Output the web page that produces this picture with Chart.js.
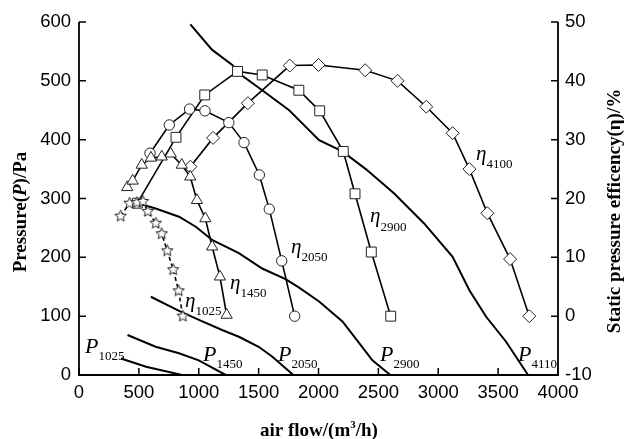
<!DOCTYPE html>
<html>
<head>
<meta charset="utf-8">
<script src="https://cdn.jsdelivr.net/npm/chart.js@4.4.1/dist/chart.umd.min.js"></script>
<style>
  body { margin: 0; background: #fff; }
  canvas { display: block; }
</style>
</head>
<body>
<canvas id="chart" width="625" height="439"></canvas>
<script>
// axis ticks
const xTicks = [0, 500, 1000, 1500, 2000, 2500, 3000, 3500, 4000];
const pTicks = [0, 100, 200, 300, 400, 500, 600];
const etaTicks = [-10, 0, 10, 20, 30, 40, 50];

// pressure curves (air flow m3/h, pressure Pa)
const flowP1025 = [350, 560, 860];
const presP1025 = [28, 14, 0];
const flowP1450 = [405, 640, 835, 1000, 1225];
const presP1450 = [68, 48, 37, 25, 0];
const flowP2050 = [600, 835, 1030, 1200, 1335, 1500, 1615, 1790];
const presP2050 = [133, 109, 91, 76, 65, 48, 31, 0];
const flowP2900 = [490, 640, 835, 975, 1115, 1335, 1530, 1725, 1835, 2005, 2200, 2340, 2450, 2600];
const presP2900 = [292, 283, 269, 252, 229, 207, 181, 163, 149, 125, 91, 54, 25, 0];
const flowP4110 = [930, 1110, 1280, 1335, 1530, 1755, 2005, 2200, 2395, 2630, 2880, 3120, 3260, 3400, 3565, 3750];
const presP4110 = [596, 553, 527, 513, 484, 450, 399, 380, 350, 309, 258, 201, 144, 99, 57, 0];

// static pressure efficiency curves (air flow m3/h, %)
const flowE1025 = [348, 422, 484, 534, 575, 641, 691, 737, 787, 832, 867];
const effE1025 = [17.0, 19.2, 19.3, 19.5, 17.8, 15.8, 14.0, 11.1, 7.9, 4.3, 0];
const flowE1450 = [403, 448, 524, 601, 691, 766, 858, 929, 985, 1055, 1112, 1177, 1233];
const effE1450 = [21.9, 23.0, 25.7, 26.9, 27.1, 27.6, 25.7, 23.7, 19.7, 16.6, 11.8, 6.7, 0.2];
const flowE2050 = [593, 754, 923, 1052, 1251, 1378, 1506, 1589, 1693, 1801];
const effE2050 = [27.7, 32.5, 35.2, 34.9, 32.9, 29.5, 24.0, 18.2, 9.4, 0];
const flowE2900 = [487, 810, 1050, 1324, 1530, 1836, 2010, 2207, 2305, 2441, 2603];
const effE2900 = [19.2, 30.4, 37.6, 41.6, 41.0, 38.4, 34.9, 28.0, 20.8, 10.9, 0];
const flowE4100 = [930, 1120, 1410, 1760, 2000, 2390, 2660, 2900, 3120, 3260, 3410, 3600, 3760];
const effE4100 = [25.4, 30.3, 36.2, 42.6, 42.7, 41.8, 40.0, 35.6, 31.1, 25.0, 17.5, 9.7, 0];

const pts = (xs, ys) => xs.map((x, i) => ({ x, y: ys[i] }));

function makeStar(r) {
  const s = Math.ceil(r * 2 + 3);
  const c = document.createElement("canvas");
  c.width = c.height = s;
  const g = c.getContext("2d");
  g.beginPath();
  for (let i = 0; i < 10; i++) {
    const a = -Math.PI / 2 + i * Math.PI / 5;
    const rr = i % 2 ? r * 0.45 : r;
    g.lineTo(s / 2 + rr * Math.cos(a), s / 2 + rr * Math.sin(a));
  }
  g.closePath();
  g.fillStyle = "#fff";
  g.fill();
  g.strokeStyle = "#222";
  g.lineWidth = 1;
  g.stroke();
  return c;
}
const star = makeStar(6);

const effStyle = (style, radius, dash) => ({
  yAxisID: "y1",
  borderColor: "#000",
  borderWidth: 1.6,
  borderDash: dash || [],
  pointStyle: style,
  pointRadius: radius,
  pointBackgroundColor: "#fff",
  pointBorderColor: "#222",
  pointBorderWidth: 1,
  tension: 0
});
const presStyle = {
  yAxisID: "y",
  borderColor: "#000",
  borderWidth: 2,
  pointRadius: 0,
  tension: 0
};

const sans = "'Liberation Sans', Arial, sans-serif";
const serif = "'Liberation Serif', 'Times New Roman', serif";
const tickFont = { family: sans, size: 18.5 };
const plain = v => String(v);

function drawParts(ctx, parts, x, y, align) {
  let w = 0;
  for (const p of parts) { ctx.font = p.font; w += ctx.measureText(p.t).width; }
  let cx = align === "center" ? x - w / 2 : x;
  for (const p of parts) {
    ctx.font = p.font;
    ctx.fillText(p.t, cx, y + (p.dy || 0));
    cx += ctx.measureText(p.t).width;
  }
}

const labels = [
  ["\u03B7", "4100", 476, 160, 8],
  ["\u03B7", "2900", 370, 222, 9],
  ["\u03B7", "2050", 291, 253, 8],
  ["\u03B7", "1450", 230, 289, 8],
  ["\u03B7", "1025", 185, 307, 8],
  ["P", "1025", 85, 353, 7],
  ["P", "1450", 203, 361, 7],
  ["P", "2050", 278, 361, 7],
  ["P", "2900", 380, 361, 7],
  ["P", "4110", 518, 361, 7]
];

const decor = {
  id: "decor",
  afterDraw(chart) {
    const { ctx, chartArea: a, scales } = chart;
    ctx.save();
    ctx.strokeStyle = "#000";
    ctx.lineWidth = 1.8;
    ctx.beginPath();
    ctx.moveTo(a.left, a.top); ctx.lineTo(a.left, a.bottom); ctx.lineTo(a.right, a.bottom); ctx.lineTo(a.right, a.top);
    ctx.stroke();
    ctx.lineWidth = 1.5;
    ctx.beginPath();
    for (const v of xTicks) { const px = scales.x.getPixelForValue(v); ctx.moveTo(px, a.bottom); ctx.lineTo(px, a.bottom - 7); }
    for (const v of pTicks) { const py = scales.y.getPixelForValue(v); ctx.moveTo(a.left, py); ctx.lineTo(a.left + 7, py); }
    for (const v of etaTicks) { const py = scales.y1.getPixelForValue(v); ctx.moveTo(a.right, py); ctx.lineTo(a.right - 7, py); }
    ctx.stroke();

    ctx.fillStyle = "#000";
    ctx.textBaseline = "alphabetic";
    ctx.textAlign = "left";
    const b = "bold 19px " + serif;
    const bi = "italic bold 19px " + serif;
    drawParts(ctx, [{ t: "air flow/(m", font: b }, { t: "3", font: "bold 11px " + serif, dy: -8 }, { t: "/h)", font: b }], 319, 436, "center");

    ctx.save();
    ctx.translate(26, 212);
    ctx.rotate(-Math.PI / 2);
    drawParts(ctx, [{ t: "Pressure(", font: b }, { t: "P", font: bi }, { t: ")/Pa", font: b }], 0, 0, "center");
    ctx.restore();

    ctx.save();
    ctx.translate(620, 211);
    ctx.rotate(-Math.PI / 2);
    drawParts(ctx, [{ t: "Static pressure efficency(\u03B7)/%", font: b }], 0, 0, "center");
    ctx.restore();

    for (const [sym, sub, x, y, dy] of labels) {
      const big = sym === "P" ? "italic 22px " + serif : "italic 21px " + serif;
      drawParts(ctx, [{ t: sym, font: big }, { t: sub, font: "13px " + serif, dy }], x, y, "left");
    }
    ctx.restore();
  }
};

new Chart(document.getElementById("chart"), {
  type: "line",
  data: {
    datasets: [
      { ...effStyle(star, 6, [4, 3]), data: pts(flowE1025, effE1025) },
      { ...effStyle("triangle", 6.5), data: pts(flowE1450, effE1450) },
      { ...effStyle("circle", 5.2), data: pts(flowE2050, effE2050) },
      { ...effStyle("rect", 7), data: pts(flowE2900, effE2900) },
      { ...effStyle("rectRot", 6.5), data: pts(flowE4100, effE4100) },
      { ...presStyle, data: pts(flowP1025, presP1025) },
      { ...presStyle, data: pts(flowP1450, presP1450) },
      { ...presStyle, data: pts(flowP2050, presP2050) },
      { ...presStyle, data: pts(flowP2900, presP2900) },
      { ...presStyle, data: pts(flowP4110, presP4110) }
    ]
  },
  options: {
    responsive: false,
    animation: false,
    layout: { padding: { top: 22, left: 0, right: 0, bottom: 0 } },
    plugins: { legend: { display: false }, tooltip: { enabled: false } },
    scales: {
      x: {
        type: "linear", min: 0, max: 4000,
        afterBuildTicks: s => { s.ticks = xTicks.map(v => ({ value: v })); },
        ticks: { color: "#000", font: tickFont, padding: 7, maxRotation: 0, callback: plain },
        grid: { display: false, drawTicks: false },
        border: { display: false },
        afterFit: s => { s.height = 64; }
      },
      y: {
        position: "left", min: 0, max: 600,
        afterBuildTicks: s => { s.ticks = pTicks.map(v => ({ value: v })); },
        ticks: { color: "#000", font: tickFont, padding: 8, callback: plain },
        grid: { display: false, drawTicks: false },
        border: { display: false },
        afterFit: s => { s.width = 79; }
      },
      y1: {
        position: "right", min: -10, max: 50,
        afterBuildTicks: s => { s.ticks = etaTicks.map(v => ({ value: v })); },
        ticks: { color: "#000", font: tickFont, padding: 7, callback: plain },
        grid: { display: false, drawTicks: false },
        border: { display: false },
        afterFit: s => { s.width = 67; }
      }
    }
  },
  plugins: [decor]
});
</script>
</body>
</html>
